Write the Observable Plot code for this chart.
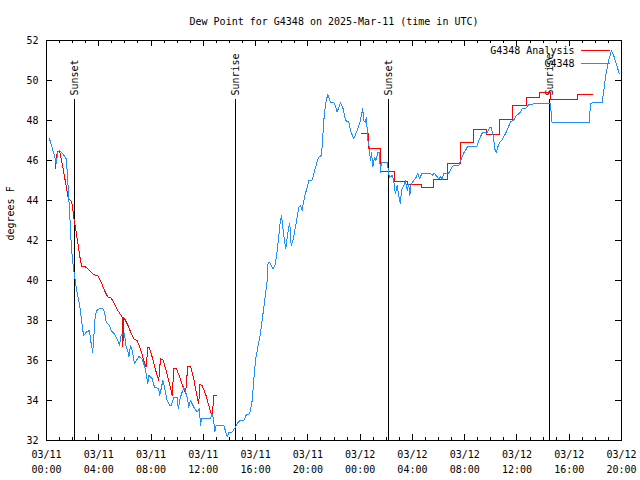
<!DOCTYPE html>
<html>
<head>
<meta charset="utf-8">
<script src="https://cdn.jsdelivr.net/npm/d3@7"></script>
<script src="https://cdn.jsdelivr.net/npm/@observablehq/plot@0.6"></script>
<style>
  html, body { margin: 0; padding: 0; background: #fff; }
  #chart svg { display: block; shape-rendering: crispEdges; }
</style>
</head>
<body>
<div id="chart"></div>
<script>
// ---------- data (hours since 2025-03-11 00:00 UTC, dew point in °F) ----------
const title = "Dew Point for G4348 on 2025-Mar-11 (time in UTC)";
const yLabel = "degrees F";
const seriesNames = ["G4348 Analysis", "G4348"];

const obsHours = [0.23,0.61,0.74,0.86,0.99,1.25,1.51,1.58,1.68,1.76,1.84,1.89,1.97,2.09,2.20,2.35,2.52,2.65,2.78,2.85,
  3.04,3.29,3.42,3.54,3.62,3.73,3.85,4.06,4.31,4.44,4.57,4.82,4.95,5.20,5.46,5.59,5.72,5.97,6.10,6.22,
  6.30,6.43,6.56,6.73,7.06,7.32,7.57,7.75,7.83,8.09,8.26,8.59,8.67,8.90,9.03,9.23,9.43,9.56,9.74,10.00,
  10.08,10.25,10.38,10.50,10.63,10.81,10.89,11.02,11.27,11.53,11.71,11.78,11.86,12.55,12.68,12.78,12.88,12.98,13.57,13.83,
  13.95,14.21,14.46,14.71,15.10,15.30,15.55,15.74,15.86,15.99,16.17,16.37,16.50,16.63,16.76,16.89,16.96,17.06,17.19,17.35,
  17.52,17.65,17.77,17.90,17.98,18.08,18.21,18.31,18.42,18.54,18.62,18.72,18.88,19.05,19.18,19.30,19.43,19.56,19.74,19.95,
  20.07,20.33,20.45,20.66,20.83,21.02,21.09,21.22,21.35,21.52,21.73,22.04,22.24,22.49,22.70,22.88,23.13,23.26,23.51,23.77,
  24.02,24.20,24.28,24.41,24.48,24.58,24.69,24.79,24.87,24.97,25.10,25.21,25.35,25.48,25.55,25.63,26.07,26.19,26.27,26.45,
  26.57,26.70,26.83,26.95,27.08,27.16,27.34,27.47,27.60,27.72,27.80,27.90,28.10,28.31,28.41,28.54,28.75,29.38,29.53,29.65,
  29.89,30.02,30.15,30.28,30.40,30.78,30.91,31.04,31.16,31.55,31.68,31.80,31.93,32.06,32.23,32.95,33.08,33.21,33.34,33.59,
  33.74,33.92,34.02,34.12,34.22,34.30,34.43,34.53,34.68,34.87,34.99,35.12,35.25,35.37,35.50,35.75,35.96,36.21,36.40,36.65,
  36.90,37.28,38.43,38.56,38.68,41.55,41.62,42.52,42.65,42.77,43.02,43.23,43.38,43.61,43.84];
const obsDew = [47.08,46.25,45.83,46.40,46.50,46.33,46.08,45.50,44.40,43.50,42.50,41.85,41.17,40.50,40.00,39.35,38.83,38.17,37.50,37.25,
  37.42,37.50,36.83,36.42,37.17,38.25,38.50,38.60,38.60,38.40,37.90,37.75,37.50,37.33,37.00,36.75,37.30,37.33,36.67,36.50,
  36.17,36.75,36.50,35.83,36.20,36.08,35.58,34.83,35.25,35.08,34.67,34.58,34.25,35.00,34.67,34.00,33.75,33.75,34.17,34.17,
  33.58,34.17,34.42,34.63,34.50,34.00,33.67,34.00,33.67,33.42,33.58,32.75,33.08,33.08,33.33,33.08,32.42,32.75,32.75,32.17,
  32.42,32.42,32.67,32.97,33.00,33.30,33.33,34.00,35.00,36.00,36.67,37.33,38.00,38.67,39.33,40.00,40.92,40.92,40.75,40.58,
  40.83,41.50,42.17,43.00,43.25,42.67,42.00,41.58,42.17,42.67,42.83,41.75,42.08,42.67,43.17,43.67,43.75,43.50,44.17,44.67,
  45.00,45.03,45.33,45.83,46.17,46.25,46.67,48.00,48.83,49.30,48.92,48.87,48.42,48.90,48.58,48.00,47.92,47.50,47.08,47.50,
  48.00,48.58,48.00,47.90,48.17,47.08,46.67,46.00,46.40,45.67,46.17,46.00,46.42,46.42,45.42,45.92,45.92,45.33,45.17,45.25,
  45.00,44.33,44.75,44.25,43.83,44.50,44.75,45.00,44.50,44.80,44.25,44.83,45.00,45.17,45.37,45.10,45.37,45.37,45.25,45.37,
  45.20,45.08,45.20,45.05,45.37,45.37,45.53,45.70,45.75,45.75,46.00,46.17,46.38,46.50,46.72,46.72,47.00,47.20,47.37,47.42,
  47.42,47.67,47.67,47.42,47.08,46.58,46.38,46.67,46.92,47.03,47.20,47.33,47.53,47.72,47.92,48.03,48.25,48.37,48.58,48.58,
  48.80,48.83,48.83,48.83,47.92,47.92,48.87,48.90,49.50,50.17,51.00,51.50,51.30,50.80,50.33];

// analysis, first night (continuous)
const anaHours1 = [0.69,0.74,0.87,1.00,1.07,1.25,1.43,1.58,1.68,1.84,1.94,2.04,2.14,2.22,2.32,2.45,2.58,2.70,3.04,3.29,
  3.62,3.93,4.19,4.44,4.69,4.95,5.20,5.46,5.72,5.79,5.84,5.91,6.30,6.43,6.68,6.94,7.19,7.44,7.63,7.75,
  7.88,8.13,8.39,8.59,8.72,8.90,9.16,9.41,9.62,9.74,9.95,10.20,10.46,10.64,10.81,11.02,11.27,11.48,11.65,11.73,
  11.91,12.17,12.42,12.68,12.80,12.98];
const anaDew1 = [45.58,46.17,46.47,46.47,46.25,45.67,45.00,44.42,44.08,44.00,43.90,43.42,42.92,42.67,42.17,41.67,41.08,40.70,40.67,40.50,
  40.30,40.22,39.92,39.50,39.17,39.13,38.83,38.50,38.25,38.17,36.67,38.17,37.67,37.42,37.08,37.00,36.58,36.00,35.67,36.63,
  36.63,36.08,35.42,35.00,36.08,36.05,35.50,34.83,34.25,35.58,35.58,35.17,34.67,34.33,35.72,35.72,35.08,34.33,33.83,34.80,
  34.75,34.33,33.75,33.17,34.25,34.25];

// analysis, second night (hourly steps)
const anaHours2 = [24.10,24.66,25.58,26.63,27.60,28.69,29.65,30.68,31.70,32.67,33.69,34.66,35.65,36.74,37.70,38.58,40.63,41.75];
const anaDew2   = [47.33,46.62,45.47,44.97,44.80,44.63,45.05,45.83,46.88,47.55,47.32,48.03,48.73,49.15,49.42,49.03,49.29,49.29];

const sunHours  = [2.14, 14.46, 26.19, 38.50];
const sunLabels = ["Sunset", "Sunrise", "Sunset", "Sunrise"];

const yTicks = [32, 34, 36, 38, 40, 42, 44, 46, 48, 50, 52];
const xMajorHours = [0, 4, 8, 12, 16, 20, 24, 28, 32, 36, 40, 44];
const xTickLabels = ["03/11\n00:00","03/11\n04:00","03/11\n08:00","03/11\n12:00","03/11\n16:00","03/11\n20:00",
                     "03/12\n00:00","03/12\n04:00","03/12\n08:00","03/12\n12:00","03/12\n16:00","03/12\n20:00"];
const xMinorHours = d3.range(0, 45);

// ---------- build ----------
const START = Date.UTC(2025, 2, 11);
const toDate = h => new Date(START + h * 3600e3);

const obs = obsHours.map((h, i) => ({t: toDate(h), v: obsDew[i]}));
const ana1 = anaHours1.map((h, i) => ({t: toDate(h), v: anaDew1[i]}));
const ana2 = anaHours2.map((h, i) => ({t: toDate(h), v: anaDew2[i]}));
const sun = sunHours.map((h, i) => ({t: toDate(h), label: sunLabels[i]}));
const xMajor = xMajorHours.map(toDate);
const xMinor = xMinorHours.map(toDate);
const labelOf = new Map(xMajor.map((d, i) => [+d, xTickLabels[i]]));

const W = 640, H = 480;
const mL = 46, mR = 19, mT = 40, mB = 40;
const innerW = W - mL - mR, innerH = H - mT - mB;
const FONT = "DejaVu Sans Mono, monospace";
const RED = "#ff0000", BLUE = "#1e90ff";

function legend(index, scales, values, dims) {
  const g = d3.create("svg:g");
  const xr = dims.width - dims.marginRight;
  const rows = [{c: RED, y: dims.marginTop + 10.5}, {c: BLUE, y: dims.marginTop + 23.5}];
  for (const r of rows) {
    g.append("line").attr("x1", xr - 40).attr("x2", xr - 11)
      .attr("y1", r.y).attr("y2", r.y).attr("stroke", r.c).attr("stroke-width", 1);
  }
  return g.node();
}

const chart = Plot.plot({
  width: W, height: H,
  marginLeft: mL, marginRight: mR, marginTop: mT, marginBottom: mB,
  style: {fontFamily: FONT, fontSize: "10px", color: "#000", background: "#fff"},
  x: {type: "utc", domain: [toDate(0), toDate(44)]},
  y: {domain: [32, 52]},
  marks: [
    // sunrise / sunset markers
    Plot.ruleX(sun, {x: "t", insetTop: 59, stroke: "#000"}),
    Plot.text(sun, {x: "t", text: "label", frameAnchor: "top", dy: 55, rotate: -90,
      textAnchor: "start", lineAnchor: "middle", fill: "#000", fontSize: 10}),
    // series
    Plot.line(ana1, {x: "t", y: "v", stroke: RED, strokeWidth: 1}),
    Plot.line(ana2, {x: "t", y: "v", stroke: RED, strokeWidth: 1, curve: "step-after"}),
    Plot.line(obs, {x: "t", y: "v", stroke: BLUE, strokeWidth: 1}),
    // inward ticks (mirrored on all sides)
    Plot.ruleX(xMinor, {x: d => d, insetTop: innerH - 3, stroke: "#000"}),
    Plot.ruleX(xMinor, {x: d => d, insetBottom: innerH - 3, stroke: "#000"}),
    Plot.ruleX(xMajor, {x: d => d, insetTop: innerH - 6, stroke: "#000"}),
    Plot.ruleX(xMajor, {x: d => d, insetBottom: innerH - 6, stroke: "#000"}),
    Plot.ruleY(yTicks, {y: d => d, insetRight: innerW - 6, stroke: "#000"}),
    Plot.ruleY(yTicks, {y: d => d, insetLeft: innerW - 6, stroke: "#000"}),
    Plot.frame({stroke: "#000"}),
    // axes
    Plot.axisY(yTicks, {anchor: "left", tickSize: 0, tickPadding: 8, label: null, fontSize: 10}),
    Plot.axisX(xMajor, {anchor: "bottom", tickSize: 0, tickPadding: 7, label: null, fontSize: 10,
      lineHeight: 1.5, tickFormat: d => labelOf.get(+d)}),
    // title & y label
    Plot.text([title], {frameAnchor: "top", dy: -23, fontSize: 10, fill: "#000"}),
    Plot.text([yLabel], {frameAnchor: "left", dx: -36, rotate: -90, fontSize: 10, fill: "#000"}),
    // legend
    Plot.text(seriesNames, {frameAnchor: "top-right", textAnchor: "end", lineAnchor: "middle",
      dx: -47, dy: 10.5, fontSize: 10, fill: "#000", filter: (d, i) => i === 0}),
    Plot.text(seriesNames, {frameAnchor: "top-right", textAnchor: "end", lineAnchor: "middle",
      dx: -47, dy: 23.5, fontSize: 10, fill: "#000", filter: (d, i) => i === 1}),
    legend
  ]
});
document.getElementById("chart").append(chart);
</script>
</body>
</html>
